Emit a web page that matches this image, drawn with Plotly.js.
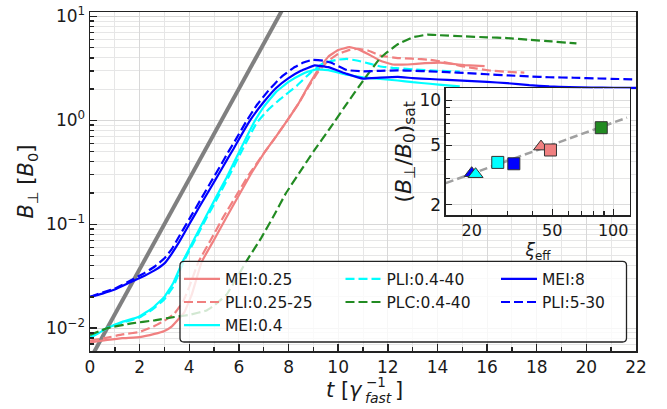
<!DOCTYPE html>
<html>
<head>
<meta charset="utf-8">
<script src="https://cdn.plot.ly/plotly-3.0.1.min.js"></script>
<style>
  html, body { margin: 0; padding: 0; background: #fff; }
  #chart { width: 667px; height: 409px; }
</style>
</head>
<body>
<div id="chart"></div>
<script>
// ---------- main panel data: B_perp [B0] vs t [1/gamma_fast] ----------
const seriesNames = ["MEI:0.25", "PLI:0.25-25", "MEI:0.4", "PLI:0.4-40", "PLC:0.4-40", "MEI:8", "PLI:5-30"];

const tMEI025 = [0, 0.7, 1.3, 2.0, 2.6, 3.0, 3.3, 3.8, 4.1, 4.5, 5.0, 5.5, 6.0, 6.5, 7.0, 7.5, 7.95, 8.4, 8.8, 9.2, 9.6, 10.0, 10.45, 10.8, 11.2, 11.7, 12.2, 12.8, 13.5, 14.1, 14.6, 15.1, 15.9];
const bMEI025 = [0.0073, 0.0077, 0.0080, 0.0082, 0.0088, 0.0094, 0.0104, 0.0142, 0.021, 0.0434, 0.071, 0.117, 0.19, 0.31, 0.48, 0.7, 1.0, 1.45, 2.15, 3.1, 4.1, 4.75, 5.07, 4.85, 4.35, 3.75, 3.45, 3.45, 3.55, 3.6, 3.5, 3.4, 3.33];

const tPLI025 = [0, 0.7, 1.3, 2.0, 2.6, 3.0, 3.4, 3.75, 4.0, 4.37, 4.87, 5.37, 5.9, 6.4, 7.0, 7.5, 7.95, 8.4, 8.8, 9.2, 9.6, 10.0, 10.4, 10.8, 11.2, 11.7, 12.4, 13.0, 13.7, 14.1, 14.6, 15.05, 15.6, 16.1, 16.8, 17.5];
const bPLI025 = [0.0076, 0.0081, 0.0087, 0.0092, 0.0105, 0.0118, 0.0138, 0.018, 0.025, 0.0434, 0.071, 0.117, 0.19, 0.3, 0.48, 0.7, 1.0, 1.45, 2.1, 2.95, 3.75, 4.35, 4.72, 4.89, 4.7, 4.2, 3.98, 3.92, 3.83, 3.7, 3.5, 3.3, 3.15, 3.02, 2.93, 2.88];

const tMEI04 = [0, 0.7, 1.3, 1.95, 2.5, 3.0, 3.35, 3.76, 4.2, 4.65, 5.05, 5.5, 6.05, 6.6, 7.0, 7.5, 8.0, 8.5, 8.8, 9.15, 9.6, 10.35, 11.0, 11.7, 12.4, 13.0, 13.7, 14.4, 14.9];
const bMEI04 = [0.0080, 0.0100, 0.0115, 0.0128, 0.0155, 0.020, 0.027, 0.045, 0.072, 0.116, 0.177, 0.28, 0.52, 0.95, 1.35, 1.88, 2.35, 2.75, 2.95, 3.1, 3.05, 2.75, 2.6, 2.5, 2.42, 2.33, 2.25, 2.17, 2.12];

const tPLI04 = [0, 0.7, 1.3, 1.95, 2.5, 3.0, 3.35, 3.8, 4.25, 4.7, 5.1, 5.6, 6.1, 6.72, 7.2, 7.66, 8.33, 8.9, 9.4, 9.95, 10.35, 10.8, 11.3, 11.7, 12.2, 13.0, 14.0, 14.9];
const bPLI04 = [0.0082, 0.0101, 0.0113, 0.0125, 0.015, 0.019, 0.025, 0.045, 0.072, 0.116, 0.172, 0.29, 0.5, 0.95, 1.28, 1.6, 2.15, 2.9, 3.55, 3.83, 3.9, 3.75, 3.5, 3.3, 3.2, 3.1, 3.0, 2.95];

const tPLC04 = [0, 0.7, 1.67, 2.6, 3.4, 4.0, 4.7, 5.0, 5.5, 6.0, 6.3, 6.9, 7.4, 7.9, 8.5, 9.0, 9.7, 10.35, 11.0, 11.7, 12.4, 13.0, 13.6, 14.1, 15.0, 16.0, 16.8, 17.7, 18.6, 19.6];
const bPLC04 = [0.0086, 0.010, 0.0111, 0.0119, 0.0128, 0.0134, 0.0148, 0.0165, 0.021, 0.033, 0.044, 0.074, 0.12, 0.2, 0.33, 0.5, 0.86, 1.45, 2.4, 4.0, 5.4, 6.3, 6.7, 6.6, 6.45, 6.3, 6.2, 5.97, 5.75, 5.5];

const tMEI8 = [0, 0.5, 1.0, 1.67, 2.2, 2.6, 3.0, 3.29, 3.6, 4.0, 4.45, 4.87, 5.24, 5.5, 5.78, 6.05, 6.45, 7.0, 7.5, 8.0, 8.5, 9.05, 9.6, 10.35, 11.0, 11.7, 12.4, 13.0, 13.7, 14.4, 15.2, 16.0, 16.8, 17.7, 18.5, 19.3, 20.2, 21.1, 22];
const bMEI8 = [0.020, 0.0215, 0.0235, 0.028, 0.032, 0.036, 0.042, 0.052, 0.068, 0.1, 0.153, 0.226, 0.32, 0.41, 0.53, 0.69, 1.0, 1.5, 2.05, 2.55, 3.0, 3.38, 3.25, 2.8, 2.52, 2.58, 2.62, 2.55, 2.5, 2.45, 2.4, 2.35, 2.28, 2.18, 2.12, 2.09, 2.07, 2.06, 2.05];

const tPLI5 = [0, 0.5, 1.0, 1.67, 2.2, 2.6, 3.0, 3.3, 3.6, 4.0, 4.45, 4.87, 5.24, 5.58, 5.9, 6.3, 6.7, 7.2, 7.7, 8.2, 8.6, 8.95, 9.4, 9.7, 10.35, 11.0, 11.7, 12.4, 13.0, 13.7, 14.4, 15.2, 16.0, 16.8, 17.7, 18.5, 19.5, 20.5, 21.3, 22];
const bPLI5 = [0.020, 0.022, 0.024, 0.029, 0.034, 0.039, 0.047, 0.058, 0.077, 0.112, 0.171, 0.255, 0.36, 0.5, 0.67, 0.98, 1.38, 1.95, 2.6, 3.2, 3.6, 3.83, 3.75, 3.6, 3.05, 2.96, 3.0, 3.03, 3.0, 2.96, 2.91, 2.85, 2.78, 2.71, 2.65, 2.6, 2.57, 2.53, 2.5, 2.48];

// reference exponential growth line (endpoints)
const tRef = [0, 8];
const bRef = [0.005, 14.9];

// tick labels
const yTickVals = [0.01, 0.1, 1, 10];
const yTickText = ["10<sup>−2</sup>", "10<sup>−1</sup>", "10<sup>0</sup>", "10<sup>1</sup>"];
const xTickVals = [0, 2, 4, 6, 8, 10, 12, 14, 16, 18, 20, 22];

// ---------- inset data: saturation level vs xi_eff ----------
const insetRuns = ["MEI:8", "MEI:0.4", "PLI:0.4-40", "PLI:5-30", "MEI:0.25", "PLI:0.25-25", "PLC:0.4-40"];
const insetXi   = [20.0, 20.9, 26.9, 32.3, 44.0, 49.0, 87.3];
const insetBsat = [3.25, 3.2, 3.84, 3.76, 4.9, 4.65, 6.56];
const fitXi = [14.9, 117];
const fitB  = [2.79, 7.66];
const insetXTicks = [20, 50, 100];
const insetYTicks = [2, 5, 10];

// ---------- styles ----------
const styleOf = {
  "MEI:0.25":    {color: "#F08080", dash: "solid"},
  "PLI:0.25-25": {color: "#F08080", dash: "9px,4px"},
  "MEI:0.4":     {color: "#00FFFF", dash: "solid"},
  "PLI:0.4-40":  {color: "#00FFFF", dash: "9px,4px"},
  "PLC:0.4-40":  {color: "#228B22", dash: "9px,4px"},
  "MEI:8":       {color: "#0000FF", dash: "solid"},
  "PLI:5-30":    {color: "#0000FF", dash: "9px,4px"}
};
// legend columns, as in the reference's 3-column legend
const legendCol = {"MEI:0.25": "legend", "PLI:0.25-25": "legend", "MEI:0.4": "legend",
                   "PLI:0.4-40": "legend2", "PLC:0.4-40": "legend2",
                   "MEI:8": "legend3", "PLI:5-30": "legend3"};

const seriesData = {
  "MEI:0.25": [tMEI025, bMEI025],
  "PLI:0.25-25": [tPLI025, bPLI025],
  "MEI:0.4": [tMEI04, bMEI04],
  "PLI:0.4-40": [tPLI04, bPLI04],
  "PLC:0.4-40": [tPLC04, bPLC04],
  "MEI:8": [tMEI8, bMEI8],
  "PLI:5-30": [tPLI5, bPLI5]
};

const traces = [];
traces.push({
  x: tRef, y: bRef, mode: "lines", showlegend: false, hoverinfo: "skip",
  line: {color: "#808080", width: 4}, xaxis: "x", yaxis: "y"
});
seriesNames.forEach(function(n, i) {
  const s = styleOf[n];
  traces.push({
    x: seriesData[n][0], y: seriesData[n][1], name: n, mode: "lines",
    line: {color: s.color, width: 2.2, dash: s.dash, shape: "spline", smoothing: 0.25},
    legend: legendCol[n], legendrank: i + 1, xaxis: "x", yaxis: "y"
  });
});

// inset
traces.push({
  x: fitXi, y: fitB, mode: "lines", showlegend: false, hoverinfo: "skip",
  line: {color: "#A0A0A0", width: 2.5, dash: "8px,4px"}, xaxis: "x2", yaxis: "y2"
});
insetRuns.forEach(function(n, i) {
  const isMEI = n.indexOf("MEI") === 0;
  traces.push({
    x: [insetXi[i]], y: [insetBsat[i]], mode: "markers", showlegend: false,
    marker: {symbol: isMEI ? "triangle-up" : "square", size: isMEI ? 13 : 12,
             color: styleOf[n].color, line: {color: "#333", width: 1}},
    xaxis: "x2", yaxis: "y2"
  });
});

// minor tick positions (log decades)
function logMinor(lo, hi) {
  const out = [];
  for (let e = lo; e <= hi; e++) {
    for (let d = 2; d <= 9; d++) out.push(d * Math.pow(10, e));
  }
  return out;
}

// plot-area pixel -> paper helpers (plot area: x 90..636, y 11.7..350.7)
const PX0 = 90, PW = 546, PY1 = 350.7, PH = 339;
function px(x) { return (x - PX0) / PW; }
function py(y) { return (PY1 - y) / PH; }

// rounded legend frame
function roundRect(x0, y0, x1, y1, r) {
  const rx = r / PW, ry = r / PH;
  const a = px(x0), b = px(x1), top = py(y0), bot = py(y1);
  return "M " + (a + rx) + "," + bot + " L " + (b - rx) + "," + bot +
         " Q " + b + "," + bot + " " + b + "," + (bot + ry) +
         " L " + b + "," + (top - ry) + " Q " + b + "," + top + " " + (b - rx) + "," + top +
         " L " + (a + rx) + "," + top + " Q " + a + "," + top + " " + a + "," + (top - ry) +
         " L " + a + "," + (bot + ry) + " Q " + a + "," + bot + " " + (a + rx) + "," + bot + " Z";
}

const font = "DejaVu Sans, Arial, sans-serif";
const legendBase = {
  orientation: "v", xanchor: "left", yanchor: "top", y: py(262),
  bgcolor: "rgba(0,0,0,0)", borderwidth: 0, itemwidth: 36,
  font: {family: font, size: 15.5, color: "#1a1a1a"}, tracegroupgap: 0
};

const layout = {
  width: 667, height: 409,
  margin: {l: 90, r: 31, t: 12, b: 58},
  paper_bgcolor: "#ffffff",
  plot_bgcolor: "#fffffe",
  font: {family: font, size: 17, color: "#1a1a1a"},
  showlegend: true,
  legend:  Object.assign({}, legendBase, {x: px(179)}),
  legend2: Object.assign({}, legendBase, {x: px(340.5)}),
  legend3: Object.assign({}, legendBase, {x: px(496)}),
  shapes: [{
    type: "path", xref: "paper", yref: "paper", layer: "above",
    path: roundRect(180, 261, 626.5, 341.7, 4),
    fillcolor: "rgba(255,255,255,0.8)", line: {color: "#222", width: 1.3}
  }],
  annotations: [
    {xref: "paper", yref: "paper", x: px(365), y: py(390), xanchor: "right", yanchor: "middle",
     text: "<i>t</i> [<i>γ</i>", showarrow: false, font: {size: 21}},
    {xref: "paper", yref: "paper", x: px(364), y: py(382), xanchor: "left", yanchor: "middle",
     text: "−1", showarrow: false, font: {size: 13.5}},
    {xref: "paper", yref: "paper", x: px(363), y: py(398), xanchor: "left", yanchor: "middle",
     text: "<i>fast</i>", showarrow: false, font: {size: 14}},
    {xref: "paper", yref: "paper", x: px(393), y: py(390), xanchor: "left", yanchor: "middle",
     text: "]", showarrow: false, font: {size: 21}}
  ],
  xaxis: {
    domain: [0, 1], range: [0, 22], anchor: "y",
    tickvals: xTickVals, ticks: "inside", ticklen: 7, tickwidth: 1.5, tickcolor: "#222",
    showline: true, mirror: true, linecolor: "#222", linewidth: 1.5,
    showgrid: true, gridcolor: "#d8d8d8", gridwidth: 1, zeroline: false,
    minor: {dtick: 1, ticks: "inside", ticklen: 4, tickcolor: "#222", showgrid: true, gridcolor: "#e6e6e6"},
    tickfont: {size: 17}
  },
  yaxis: {
    domain: [0, 1], type: "log", range: [-2.22, 1.043], anchor: "x",
    tickvals: yTickVals, ticktext: yTickText,
    ticks: "inside", ticklen: 7, tickwidth: 1.5, tickcolor: "#222",
    showline: true, mirror: true, linecolor: "#222", linewidth: 1.5,
    showgrid: true, gridcolor: "#d8d8d8", zeroline: false,
    minor: {tickvals: logMinor(-3, 1), ticks: "inside", ticklen: 4, tickcolor: "#222", showgrid: true, gridcolor: "#e6e6e6"},
    tickfont: {size: 17},
    title: {text: "<i>B</i><sub>⊥</sub> [<i>B</i><sub>0</sub>]", font: {size: 21}, standoff: 6}
  },
  xaxis2: {
    domain: [0.652, 0.989], type: "log", range: [1.174, 2.083], anchor: "y2",
    tickvals: insetXTicks, ticktext: insetXTicks.map(String),
    ticks: "inside", ticklen: 6, tickwidth: 1.3, tickcolor: "#222",
    showline: true, mirror: true, linecolor: "#222", linewidth: 1.5,
    showgrid: true, gridcolor: "#dcdcdc", zeroline: false,
    minor: {tickvals: logMinor(1, 2), ticks: "inside", ticklen: 4, tickcolor: "#222", showgrid: true, gridcolor: "#e6e6e6"},
    tickfont: {size: 16},
    title: {text: "<i>ξ</i><sub>eff</sub>", font: {size: 17}, standoff: 2}
  },
  yaxis2: {
    domain: [0.40, 0.7745], type: "log", range: [0.229, 1.08], anchor: "x2",
    tickvals: insetYTicks, ticktext: insetYTicks.map(String),
    ticks: "inside", ticklen: 6, tickwidth: 1.3, tickcolor: "#222",
    showline: true, mirror: true, linecolor: "#222", linewidth: 1.5,
    showgrid: true, gridcolor: "#dcdcdc", zeroline: false,
    minor: {tickvals: logMinor(0, 1), ticks: "inside", ticklen: 4, tickcolor: "#222", showgrid: true, gridcolor: "#e6e6e6"},
    tickfont: {size: 17},
    title: {text: "(<i>B</i><sub>⊥</sub>/<i>B</i><sub>0</sub>)<sub>sat</sub>", font: {size: 22}, standoff: 2}
  }
};

Plotly.newPlot("chart", traces, layout, {displayModeBar: false, staticPlot: true});
</script>
</body>
</html>
